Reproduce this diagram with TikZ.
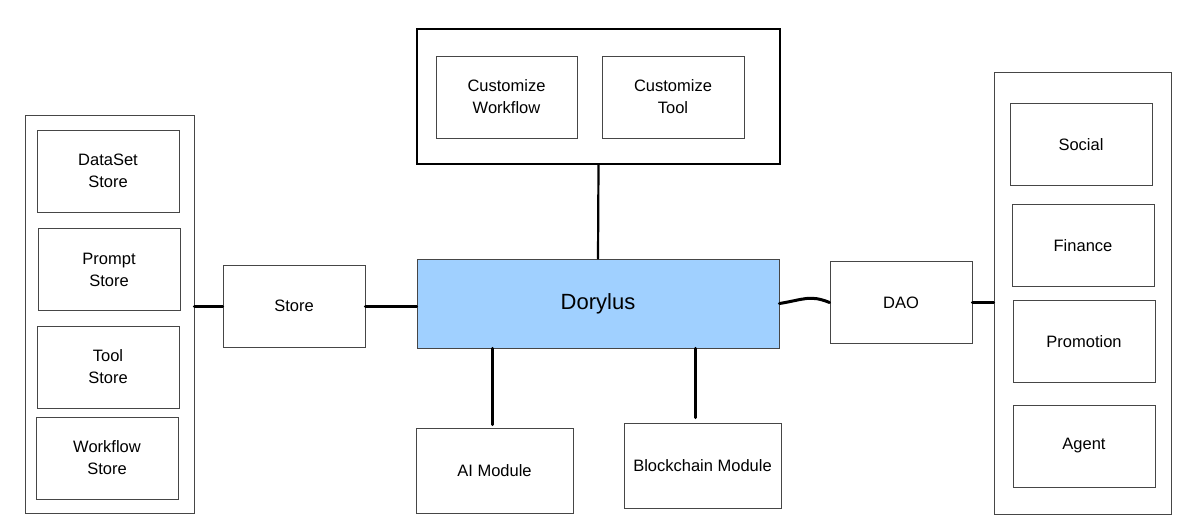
\documentclass[tikz,border=0pt]{standalone}
\usepackage{fontspec}
\setmainfont{Liberation Sans}
\definecolor{boxgray}{RGB}{70,70,70}
\definecolor{dorblue}{RGB}{160,208,255}
\begin{document}
\begin{tikzpicture}[x=1pt,y=-1pt,
	box/.style={draw=boxgray,line width=0.8pt,minimum width=142pt,minimum height=82pt,align=center,
		font=\fontsize{16.5}{22}\selectfont,inner sep=0pt},
	group/.style={draw=boxgray,line width=0.9pt,inner sep=0pt},
	link/.style={line width=3pt,line cap=round}]
\useasboundingbox (0,0) rectangle (1196,531);
\node[group,minimum width=169pt,minimum height=398pt] (stores) at (109.5,314) {};
\node[box] (dataset) at (108,171) {DataSet\\Store};
\node[box] (prompt) at (109,269.5) {Prompt\\Store};
\node[box] (tool) at (108,367) {Tool\\Store};
\node[box] (workflow) at (107,458) {Workflow\\Store};
\node[box] (store) at (294,306) {Store};
\node[group,draw=black,line width=1.6pt,minimum width=363pt,minimum height=135pt] (custom) at (598.5,96.5) {};
\node[box,minimum width=141pt] (cworkflow) at (506.5,97) {Customize\\Workflow};
\node[box] (ctool) at (673,97) {Customize\\Tool};
\node[box,fill=dorblue,minimum width=362pt,minimum height=89pt,font=\fontsize{22}{26}\selectfont] (dorylus) at (598,303.5) {Dorylus};
\node[box] (dao) at (901,302.5) {DAO};
\node[group,minimum width=177pt,minimum height=442pt] (apps) at (1082.5,293) {};
\node[box] (social) at (1081,144.5) {Social};
\node[box] (finance) at (1083,245.5) {Finance};
\node[box] (promotion) at (1084,341.5) {Promotion};
\node[box] (agent) at (1084,446) {Agent};
\node[box,minimum width=157pt,minimum height=85pt] (ai) at (494.5,470.5) {AI Module};
\node[box,minimum width=157pt,minimum height=85pt] (chain) at (702.5,465.5) {Blockchain Module};
\draw[link] (store.west) -- (store.west -| stores.east);
\draw[link] (store.east) -- (store.east -| dorylus.west);
\draw[link,line width=2.2pt] (custom.south) -- (dorylus.north);
\draw[link] (dorylus.east) .. controls +(25,-4) and +(-20,-8) .. (dao.west);
\draw[link] (dao.east) -- (dao.east -| apps.west);
\draw[link] ([xshift=-2.5pt]dorylus.south -| ai.north) -- ([xshift=-2.5pt,yshift=3pt]ai.north);
\draw[link] ([xshift=-7.5pt]dorylus.south -| chain.north) -- ([xshift=-7.5pt,yshift=5pt]chain.north);
\end{tikzpicture}
\end{document}
